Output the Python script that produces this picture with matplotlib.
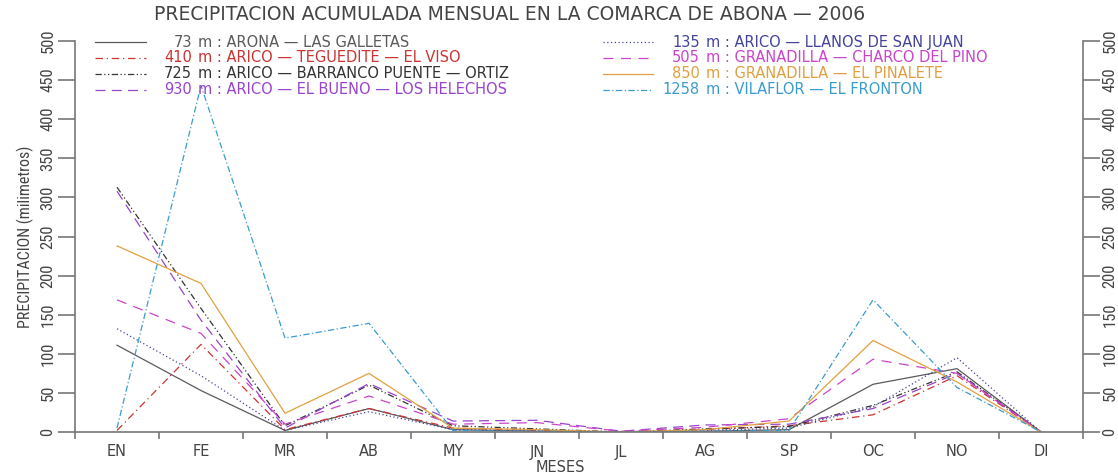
import numpy as np
import matplotlib
matplotlib.use("Agg")
import matplotlib.pyplot as plt

# monthly rainfall, Comarca de Abona 2006 (mm)
meses = ["EN", "FE", "MR", "AB", "MY", "JN", "JL", "AG", "SP", "OC", "NO", "DI"]

arona_galletas = [111, 53, 2, 30, 3, 1, 0, 1, 3, 61, 81, 0]
arico_llanos = [132, 72, 2, 26, 3, 2, 0, 2, 5, 32, 95, 0]
arico_teguedite = [2, 112, 3, 30, 5, 2, 0, 3, 8, 22, 72, 0]
granadilla_charco = [169, 126, 10, 46, 10, 12, 1, 6, 17, 93, 75, 0]
arico_barranco = [313, 158, 8, 60, 8, 4, 0, 4, 7, 34, 77, 0]
granadilla_pinalete = [238, 190, 24, 75, 5, 3, 0, 3, 14, 117, 64, 0]
arico_bueno = [308, 143, 5, 62, 14, 15, 1, 9, 10, 30, 75, 0]
vilaflor_fronton = [5, 443, 120, 139, 2, 1, 0, 1, 2, 169, 57, 0]

altitudes = ["73", "410", "725", "930", "135", "505", "850", "1258"]
estaciones = [
    "ARONA \u2014 LAS GALLETAS",
    "ARICO \u2014 TEGUEDITE \u2014 EL VISO",
    "ARICO \u2014 BARRANCO PUENTE \u2014 ORTIZ",
    "ARICO \u2014 EL BUENO \u2014 LOS HELECHOS",
    "ARICO \u2014 LLANOS DE SAN JUAN",
    "GRANADILLA \u2014 CHARCO DEL PINO",
    "GRANADILLA \u2014 EL PINALETE",
    "VILAFLOR \u2014 EL FRONTON",
]
series = [arona_galletas, arico_teguedite, arico_barranco, arico_bueno,
          arico_llanos, granadilla_charco, granadilla_pinalete, vilaflor_fronton]

colores = ["#5a5a5a", "#cc3333", "#333333", "#9944cc",
           "#44449a", "#cc44cc", "#e0a040", "#3a9ccc"]
estilos = ["-", (0, (6, 3, 1, 3)), (0, (5, 2, 1, 2, 1, 2)), (0, (8, 5)),
           (0, (1, 2)), (0, (8, 6)), "-", (0, (5, 2, 1, 2))]

plt.rcParams["font.family"] = ["DejaVu Sans"]
narrow = ["Roboto Condensed", "Liberation Sans Narrow", "Roboto", "DejaVu Sans"]
gris = "#444444"

fig = plt.figure(figsize=(11.18, 4.75), dpi=100)
ax = fig.add_axes([75 / 1118, 43 / 475, 1008 / 1118, 391 / 475])

x = np.arange(1, 13)
for vals, c, ls in zip(series, colores, estilos):
    ax.plot(x, vals, color=c, linestyle=ls, linewidth=0.9)

ax.set_xlim(0.5, 12.5)
ax.set_ylim(0, 500)
ax.spines["top"].set_visible(False)
for s in ["left", "right", "bottom"]:
    ax.spines[s].set_color("#777777")
    ax.spines[s].set_linewidth(1.2)

ax.set_xticks(np.arange(0.5, 12.6, 1))
ax.set_xticklabels([])
ax.set_xticks(x, minor=True)
ax.set_xticklabels(meses, minor=True)
ax.tick_params(axis="x", which="major", length=5, color="#777777", width=1.2)
ax.tick_params(axis="x", which="minor", length=0, pad=9, labelsize=10.5,
               labelcolor=gris)

ax.set_yticks(np.arange(0, 501, 50))
ax.tick_params(axis="y", which="both", left=True, right=True,
               labelleft=True, labelright=True, length=12, width=1.2,
               color="#777777", labelcolor=gris, pad=2)
for t in ax.yaxis.get_major_ticks():
    for lab in (t.label1, t.label2):
        lab.set_rotation(90)
        lab.set_va("center")
        lab.set_family(narrow)
        lab.set_fontsize(12)

ax.set_ylabel("PRECIPITACION (milimetros)", family=narrow, fontsize=11.5,
              color=gris, labelpad=5)
fig.text(560 / 1118, 8 / 475, "MESES", ha="center", va="center",
         fontsize=10.5, color=gris)
fig.text(510 / 1118, 1 - 15 / 475,
         "PRECIPITACION ACUMULADA MENSUAL EN LA COMARCA DE ABONA \u2014 2006",
         ha="center", va="center", fontsize=13.5, color=gris)

# legend drawn by hand: two columns of four rows
filas = [0.997, 0.957, 0.916, 0.875]
columnas = [(0.0198, 0.0704, 0.116), (0.524, 0.573, 0.620)]
for i, (alt, nombre, c, ls) in enumerate(zip(altitudes, estaciones, colores, estilos)):
    x0, x1, xr = columnas[i // 4]
    y = filas[i % 4]
    ax.plot([x0, x1], [y, y], transform=ax.transAxes, color=c, linestyle=ls,
            linewidth=0.9, clip_on=False)
    ax.text(xr, y, alt, transform=ax.transAxes, ha="right", va="center",
            fontsize=10.5, color=c)
    ax.text(xr + 0.006, y, "m : " + nombre, transform=ax.transAxes,
            ha="left", va="center", fontsize=10.5, color=c)

fig.savefig("out.png", dpi=100)
